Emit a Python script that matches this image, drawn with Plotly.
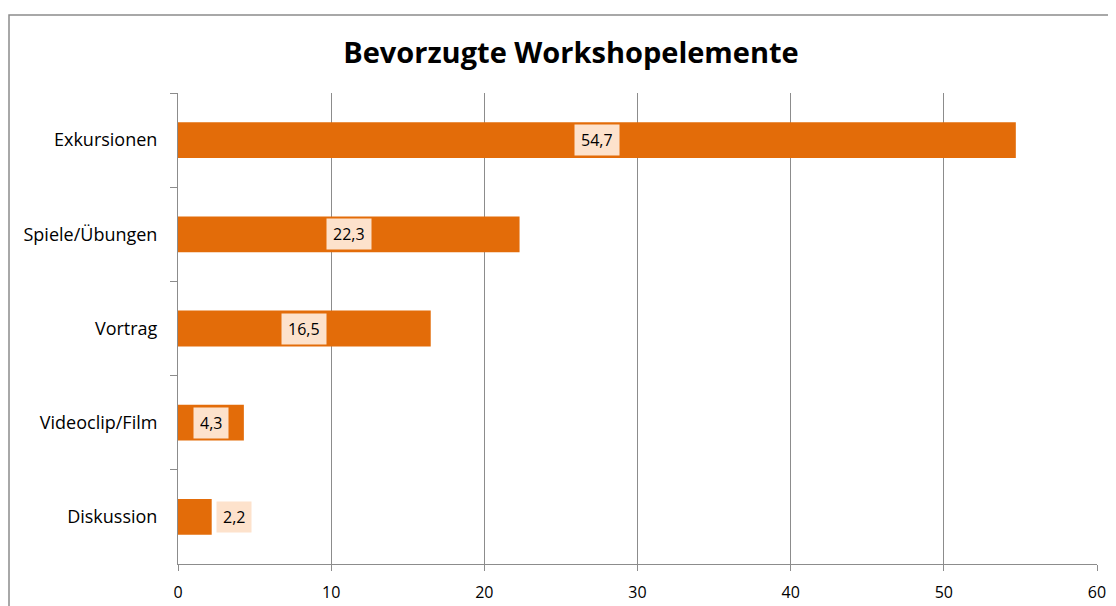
import plotly.graph_objects as go

categories = ["Exkursionen", "Spiele/Übungen", "Vortrag", "Videoclip/Film", "Diskussion"]
values = [54.7, 22.3, 16.5, 4.3, 2.2]
labels = ["54,7", "22,3", "16,5", "4,3", "2,2"]
x_ticks = [0, 10, 20, 30, 40, 50, 60]

# page is offset by the 8px body margin
W, H = 1108, 598
ml, mr, mt, mb = 170, 19, 85, 42
pw = W - ml - mr
ph = H - mt - mb

bar_color = "#E36C09"
grid_color = "#8C8C8C"
font_family = "Open Sans, Liberation Sans, sans-serif"

fig = go.Figure()
fig.add_trace(go.Bar(
    x=values, y=categories, orientation="h",
    marker=dict(color=bar_color, line=dict(width=0)),
    width=0.38, hoverinfo="skip",
))

for c, v, t in zip(categories, values, labels):
    xpos = v / 2 if v > 3 else v + 1.45
    fig.add_annotation(
        x=xpos, y=c, text=t, showarrow=False,
        font=dict(family=font_family, size=16, color="#000000"),
        bgcolor="#FDE2CC", borderpad=6, height=18,
        xanchor="center", yanchor="middle",
    )

fig.update_layout(
    width=W, height=H,
    margin=dict(l=ml, r=mr, t=mt, b=mb),
    paper_bgcolor="white", plot_bgcolor="white",
    showlegend=False,
    title=dict(text="<b>Bevorzugte Workshopelemente</b>",
               x=(571 - 8 - ml) / pw, xref="paper", xanchor="center",
               y=1 - (51 - 6) / H, yanchor="middle",
               font=dict(family=font_family, size=29, color="#000000")),
    xaxis=dict(range=[0, 60], tickvals=x_ticks, ticktext=[str(v) for v in x_ticks],
               showgrid=True, gridcolor=grid_color, gridwidth=1,
               showline=True, linecolor=grid_color, linewidth=1,
               ticks="outside", ticklen=6, tickcolor=grid_color,
               ticklabelstandoff=8, automargin=False,
               tickfont=dict(family=font_family, size=16, color="#000000"),
               zeroline=False, fixedrange=True),
    yaxis=dict(categoryorder="array", categoryarray=categories, autorange="reversed",
               showline=True, linecolor=grid_color, linewidth=1,
               ticks="outside", ticklen=7, tickcolor=grid_color, tickson="boundaries",
               ticklabelstandoff=16, automargin=False,
               tickfont=dict(family=font_family, size=18, color="#000000"),
               showgrid=False, fixedrange=True),
)

# outer chart frame
fig.add_shape(type="rect", xref="paper", yref="paper",
              x0=-(ml - 1) / pw, x1=1 + (mr + 20) / pw,
              y0=-(mb + 20) / ph, y1=1 + (mt - 7) / ph,
              line=dict(color="#8C8C8C", width=1.5), fillcolor="rgba(0,0,0,0)",
              layer="below")

fig.write_html("out.html")
